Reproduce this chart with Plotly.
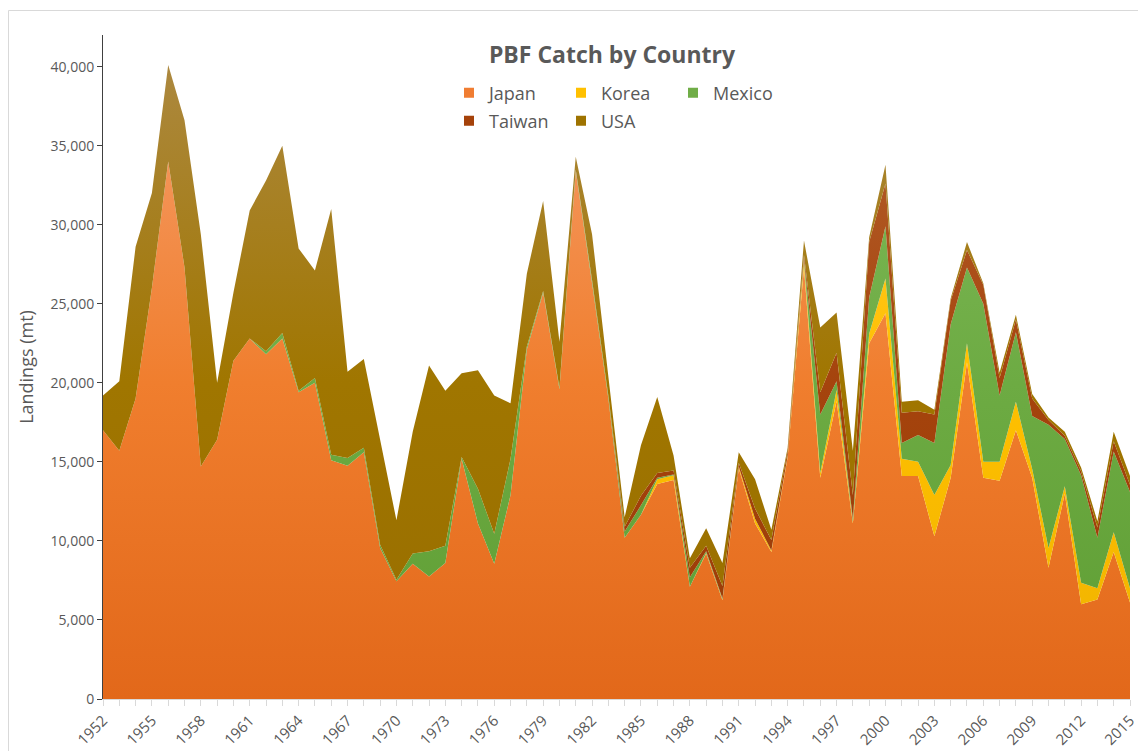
import plotly.graph_objects as go

years = list(range(1952, 2016))

japan = [17000, 15700, 19000, 26000, 34000, 27300, 14700, 16400, 21400, 22800,
         21800, 22800, 19400, 20000, 15100, 14750, 15600, 9550, 7450, 8550,
         7750, 8600, 15200, 11100, 8550, 12900, 22100, 25700, 19600, 33400,
         26300, 19000, 10200, 11650, 13600, 13850, 7100, 9200, 6250, 14600,
         11100, 9300, 15300, 27300, 14000, 18850, 11100, 22500, 24400, 14100,
         14100, 10300, 14000, 21300, 14000, 13800, 17000, 14000, 8300, 13000,
         6000, 6300, 9300, 6100]

korea = [0] * 34 + [300, 300, 0, 50, 50, 100, 300, 100, 100, 400,
                    300, 700, 100, 600, 2200, 1100, 900, 2600, 800, 1200,
                    1000, 1200, 1800, 550, 1250, 450, 1350, 700, 1250, 900]

mexico = [0] * 10 + [200, 350, 100, 300, 350, 500, 300, 200, 100, 650,
                     1600, 1100, 100, 2200, 1900, 2300, 200, 100, 100, 100,
                     200, 200, 400, 600, 100, 50, 600, 100, 50, 0,
                     0, 0, 0, 100, 3700, 550, 200, 2300, 3300, 1000,
                     1700, 3300, 8900, 4800, 10000, 4200, 4400, 3350, 7800, 3000,
                     6800, 3200, 5100, 6100]

taiwan = [0] * 32 + [300, 600, 300, 250, 600, 350, 800, 250, 650, 650,
                     300, 300, 1400, 1800, 1500, 3500, 2700, 1900, 1500, 1800,
                     1500, 1100, 1200, 1100, 800, 1100, 300, 200, 250, 650,
                     650, 450]

usa = [2200, 4400, 9600, 6000, 6100, 9300, 14700, 3600, 4300, 8100,
       10800, 11850, 9000, 6800, 15550, 5450, 5600, 6550, 3750, 7700,
       11750, 9800, 5300, 7500, 8750, 3500, 4600, 5700, 2900, 800,
       2900, 1200, 600, 3200, 4800, 950, 600, 1100, 1450, 650,
       1850, 650, 200, 900, 4100, 2550, 2800, 300, 1200, 700,
       700, 300, 150, 500, 100, 350, 300, 300, 150, 250,
       250, 400, 600, 550]

series = [
    ("Japan", japan, ["#E2681A", "#F07E2E", "#F59D68"], "#F07D32"),
    ("Korea", korea, ["#EFB200", "#FFC000", "#FFCB38"], "#FFC000"),
    ("Mexico", mexico, ["#5E9D33", "#6DAB43", "#80BA5A"], "#70AD47"),
    ("Taiwan", taiwan, ["#9A3A05", "#A5440D", "#B6622F"], "#A5420A"),
    ("USA", usa, ["#986D00", "#A07600", "#AC883E"], "#9E7300"),
]

fig = go.Figure()
for name, vals, cs, _ in series:
    fig.add_trace(go.Scatter(
        x=years, y=vals, name=name, mode="lines", stackgroup="one",
        line=dict(width=0),
        fillgradient=dict(type="vertical", start=0, stop=40000,
                          colorscale=[[0, cs[0]], [0.5, cs[1]], [1, cs[2]]]),
        showlegend=False, hoverinfo="x+y+name"))

legend_of = {"Japan": "legend", "Korea": "legend", "Mexico": "legend",
             "Taiwan": "legend2", "USA": "legend2"}
for name, vals, cs, mc in series:
    fig.add_trace(go.Scatter(
        x=[None], y=[None], name=name, mode="markers",
        marker=dict(symbol="square", size=10, color=mc),
        legend=legend_of[name], showlegend=True))

font_family = "Open Sans"
txt = "#595959"

# page body has an 8px margin; figure is sized to fill the rest of the window
OFF = 8
W, H = 1146 - OFF, 751 - OFF
L, R, T, B = 103 - OFF, 16, 35 - OFF, 52
PW = W - L - R
PH = H - T - B


def px_x(p):
    return (p - OFF - L) / PW


def px_y(p):
    return (H - B - (p - OFF)) / PH


leg_common = dict(orientation="h", xanchor="left", yanchor="middle",
                  entrywidth=67, entrywidthmode="pixels",
                  traceorder="normal", bgcolor="rgba(0,0,0,0)",
                  font=dict(size=18, color=txt, family=font_family))

fig.update_layout(
    width=W, height=H,
    margin=dict(l=L, r=R, t=T, b=B, autoexpand=False),
    paper_bgcolor="white", plot_bgcolor="white",
    font=dict(family=font_family, color=txt),
    title=dict(text="PBF Catch by Country", x=px_x(612), xref="paper",
               xanchor="center", y=1 - (55 - OFF) / H, yanchor="middle",
               font=dict(size=23, weight="bold", color=txt, family=font_family)),
    legend=dict(x=px_x(449), y=px_y(93), **leg_common),
    legend2=dict(x=px_x(449), y=px_y(121), **leg_common),
    xaxis=dict(range=[1952, 2015], tickmode="linear", tick0=1952, dtick=3,
               tickangle=-45, ticks="outside", ticklen=6, tickcolor="#D9D9D9",
               showline=True, linecolor="#D9D9D9", linewidth=1, showgrid=False,
               zeroline=False, automargin=False,
               tickfont=dict(size=15, color=txt),
               minor=dict(dtick=1, tick0=1952, ticks="outside", ticklen=6,
                          tickcolor="#D9D9D9", showgrid=False)),
    yaxis=dict(range=[0, 42000], tickmode="linear", tick0=0, dtick=5000,
               tickformat=",", ticks="outside", ticklen=5, tickcolor="#404040",
               showline=True, linecolor="#404040", linewidth=1, showgrid=False,
               zeroline=False, automargin=False,
               tickfont=dict(size=14, color=txt),
               title=dict(text="Landings (mt)", standoff=12,
                          font=dict(size=18, color=txt))),
    shapes=[dict(type="rect", xref="paper", yref="paper",
                 x0=px_x(8.5), x1=1.2, y0=-0.2, y1=px_y(10.5),
                 line=dict(color="#D9D9D9", width=1), fillcolor="rgba(0,0,0,0)",
                 layer="below")],
)

fig.write_html("out.html")
